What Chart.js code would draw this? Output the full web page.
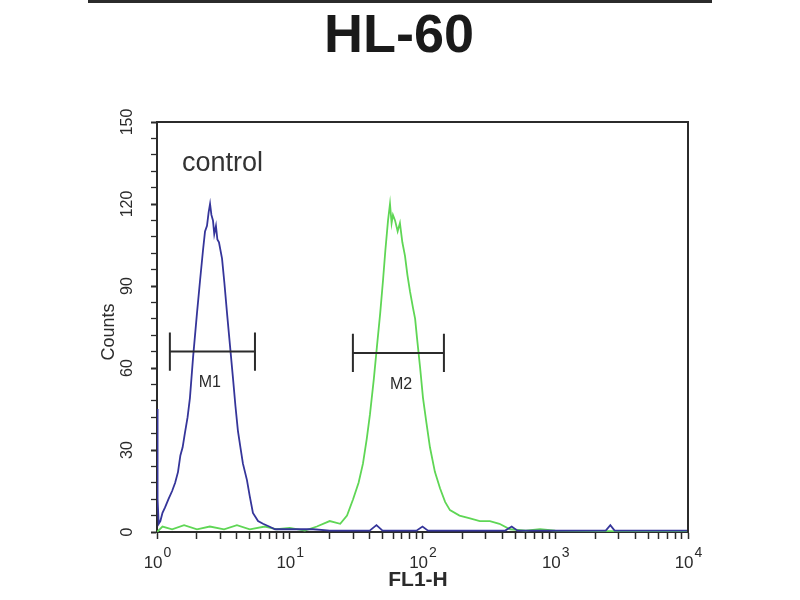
<!DOCTYPE html>
<html>
<head>
<meta charset="utf-8">
<title>HL-60</title>
<script src="https://cdn.jsdelivr.net/npm/chart.js@4/dist/chart.umd.min.js"></script>
<style>
    body { margin: 0; background: #fff; }
    canvas { display: block; }
</style>
</head>
<body>
<canvas id="histChart" width="800" height="600"></canvas>
<script>
// ==========================
// DATA
// ==========================
const titleText = "HL-60";
const xTitle = "FL1-H";
const yTitle = "Counts";

// blue histogram (control)
const blueX = [1.00, 1.01, 1.03, 1.06, 1.10, 1.15, 1.22, 1.30, 1.37, 1.44, 1.50, 1.56, 1.62, 1.70, 1.77,
    1.87, 2.00, 2.11, 2.22, 2.30, 2.38, 2.45, 2.51, 2.57, 2.64, 2.70, 2.78, 2.85, 2.93, 3.09, 3.22,
    3.37, 3.55, 3.74, 3.90, 4.07, 4.25, 4.44, 4.76, 5.0, 5.28, 5.77, 6.29, 7.0, 7.75, 10, 15, 20,
    40, 45, 50, 90, 100, 110, 420, 470, 520, 2400, 2600, 2800, 10000];
const blueY = [45, 12, 3, 4, 7, 9, 12, 15, 18, 22, 28, 31, 36, 42, 49,
    64, 80, 92, 103, 110, 112, 117, 120, 116, 114, 109, 112, 107, 106, 100, 91,
    80, 68, 56, 46, 37, 31, 25, 19, 13, 7, 4, 3, 2, 1, 1, 1, 0.5,
    0.5, 2.5, 0.5, 0.5, 2, 0.5, 0.5, 2, 0.5, 0.5, 2.5, 0.5, 0.5];

// green histogram (sample)
const greenX = [1.0, 1.1, 1.3, 1.6, 2.0, 2.5, 3.2, 4.0, 5.0, 6.5, 8, 10, 13, 16, 20, 24, 27, 30,
    33, 35.6, 38, 40.2, 43, 45.4, 48, 50.4, 52.5, 55, 56.9, 58.5, 59.9, 62.1, 65, 67.6, 70.5,
    73.8, 77, 80.5, 84.8, 88, 90.9, 96, 100.9, 107, 113.8, 124, 135.5, 148, 161, 190, 228,
    270, 322, 380, 456, 600, 768, 1000, 10000];
const greenY = [0, 2, 1, 2.5, 1, 2, 1, 2.5, 1, 2, 1, 1.5, 0.5, 2, 4, 3, 6, 12,
    18, 25, 34, 43, 56, 68, 80, 92, 103, 114, 120, 113, 116, 114, 110, 113, 106,
    101, 94, 88, 82, 78, 71, 60, 49, 40, 31, 22, 16, 11, 8, 6, 5,
    4, 4, 3, 1, 0.5, 1, 0.5, 0];

// axis ticks
const yTickLabels = [0, 30, 60, 90, 120, 150];
const xDecades = [0, 1, 2, 3, 4];

// marker gates
const gateM1 = [1.25, 5.47];
const gateM2 = [29.9, 145];
const gateY = [66, 65.5];
const gateNames = ["M1", "M2"];
const gateLabelX = [2.5, 68.9];
const gateLabelY = [54.5, 54];

const FONT = "'Liberation Sans', Arial, sans-serif";
const INK = "#2b2b2b";

// all minor/major log ticks 1..9 x 10^d
const xTicks = [];
for (let d = 0; d < 4; d++) {
    for (let k = 1; k < 10; k++) xTicks.push(k * Math.pow(10, d));
}
xTicks.push(10000);

const toPoints = (xs, ys) => xs.map((x, i) => ({ x, y: ys[i] }));

// ==========================
// DECORATION PLUGIN
// ==========================
const decorations = {
    id: "decorations",
    afterDraw(chart) {
        const { ctx, chartArea: a, scales: { x, y } } = chart;
        ctx.save();

        // header rule
        ctx.fillStyle = INK;
        ctx.fillRect(88, 0, 624, 3);

        // title
        ctx.fillStyle = "#1a1a1a";
        ctx.font = `bold 54px ${FONT}`;
        ctx.textAlign = "center";
        ctx.textBaseline = "alphabetic";
        ctx.fillText(titleText, 399, 52);

        // top + right frame
        ctx.strokeStyle = INK;
        ctx.lineWidth = 2;
        ctx.beginPath();
        ctx.moveTo(a.left - 1, a.top);
        ctx.lineTo(a.right, a.top);
        ctx.lineTo(a.right, a.bottom + 1);
        ctx.stroke();

        // y tick labels, rotated
        ctx.fillStyle = INK;
        ctx.font = `16px ${FONT}`;
        ctx.textBaseline = "middle";
        yTickLabels.forEach(v => {
            ctx.save();
            ctx.translate(128, y.getPixelForValue(v));
            ctx.rotate(-Math.PI / 2);
            ctx.fillText(String(v), 0, 0);
            ctx.restore();
        });

        // y title
        ctx.save();
        ctx.font = `18px ${FONT}`;
        ctx.translate(109, 332);
        ctx.rotate(-Math.PI / 2);
        ctx.fillText(yTitle, 0, 0);
        ctx.restore();

        // x tick labels 10^d
        ctx.textAlign = "left";
        ctx.textBaseline = "alphabetic";
        xDecades.forEach(d => {
            const px = x.getPixelForValue(Math.pow(10, d));
            ctx.font = `17px ${FONT}`;
            const w1 = ctx.measureText("10").width;
            ctx.font = `14px ${FONT}`;
            const w2 = ctx.measureText(String(d)).width;
            const left = px - (w1 + w2) / 2;
            ctx.font = `17px ${FONT}`;
            ctx.fillText("10", left, 568);
            ctx.font = `14px ${FONT}`;
            ctx.fillText(String(d), left + w1 + 1, 557);
        });

        // x title
        ctx.textAlign = "center";
        ctx.textBaseline = "middle";
        ctx.font = `bold 21px 'Liberation Sans Narrow', ${FONT}`;
        ctx.fillText(xTitle, 418, 580);

        // "control" label
        ctx.fillStyle = "#333";
        ctx.textAlign = "left";
        ctx.textBaseline = "alphabetic";
        ctx.font = `27px ${FONT}`;
        ctx.fillText("control", x.getPixelForValue(1.54), y.getPixelForValue(132));

        // marker gates
        [gateM1, gateM2].forEach((g, i) => {
            const x1 = x.getPixelForValue(g[0]);
            const x2 = x.getPixelForValue(g[1]);
            const yy = y.getPixelForValue(gateY[i]);
            const cap = y.getPixelForValue(gateY[i] - 7) - yy;
            ctx.strokeStyle = INK;
            ctx.lineWidth = 2;
            ctx.beginPath();
            ctx.moveTo(x1, yy);
            ctx.lineTo(x2, yy);
            ctx.moveTo(x1, yy - cap);
            ctx.lineTo(x1, yy + cap);
            ctx.moveTo(x2, yy - cap);
            ctx.lineTo(x2, yy + cap);
            ctx.stroke();

            ctx.fillStyle = INK;
            ctx.font = `16px ${FONT}`;
            ctx.textAlign = "center";
            ctx.textBaseline = "middle";
            ctx.fillText(gateNames[i], x.getPixelForValue(gateLabelX[i]), y.getPixelForValue(gateLabelY[i]));
        });

        ctx.restore();
    }
};

// ==========================
// CHART
// ==========================
const ctx = document.getElementById("histChart");

new Chart(ctx, {
    type: "line",
    data: {
        datasets: [
            {
                label: "control",
                data: toPoints(blueX, blueY),
                borderColor: "#35359a",
                borderWidth: 1.8,
                pointRadius: 0,
                tension: 0
            },
            {
                label: "HL-60",
                data: toPoints(greenX, greenY),
                borderColor: "#5fd655",
                borderWidth: 1.8,
                pointRadius: 0,
                tension: 0
            }
        ]
    },
    options: {
        responsive: false,
        animation: false,
        layout: {
            padding: { top: 122, right: 112, left: 0, bottom: 0 }
        },
        plugins: {
            legend: { display: false },
            tooltip: { enabled: false }
        },
        scales: {
            x: {
                type: "logarithmic",
                min: 1,
                max: 10000,
                afterFit: s => { s.height = 68; },
                afterBuildTicks: s => { s.ticks = xTicks.map(v => ({ value: v })); },
                ticks: { display: false },
                grid: {
                    drawOnChartArea: false,
                    drawTicks: true,
                    tickLength: 7,
                    tickColor: INK,
                    tickWidth: 1.5
                },
                border: { display: true, color: INK, width: 2 }
            },
            y: {
                min: 0,
                max: 150,
                afterFit: s => { s.width = 157; },
                ticks: { display: false, stepSize: 6 },
                grid: {
                    drawOnChartArea: false,
                    drawTicks: true,
                    tickLength: 6,
                    tickColor: INK,
                    tickWidth: c => (c.tick && c.tick.value % 30 === 0 ? 2 : 1.3)
                },
                border: { display: true, color: INK, width: 2 }
            }
        }
    },
    plugins: [decorations]
});
</script>
</body>
</html>
